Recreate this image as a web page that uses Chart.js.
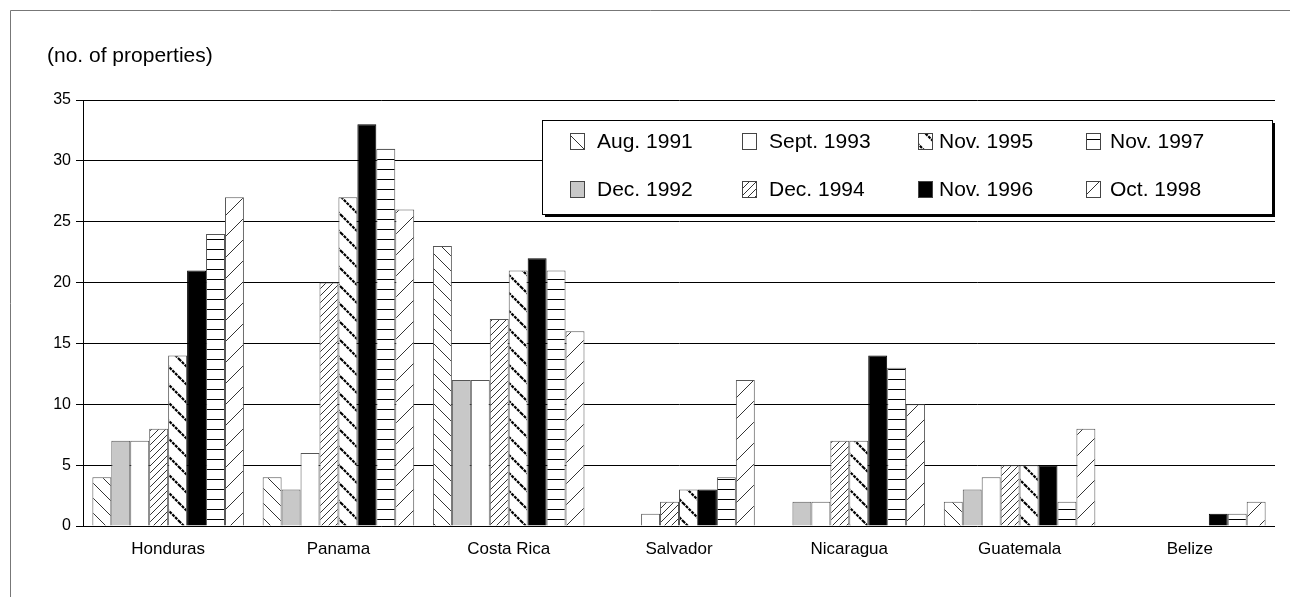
<!DOCTYPE html>
<html>
<head>
<meta charset="utf-8">
<script src="https://cdn.jsdelivr.net/npm/chart.js@4/dist/chart.umd.min.js"></script>
<style>
  html, body { margin: 0; padding: 0; background: #fff; }
  #wrap { position: relative; width: 1290px; height: 597px; }
</style>
</head>
<body>
<div id="wrap"><canvas id="c" width="1290" height="597"></canvas></div>
<script>
// Properties counted per country at each survey date
const categories = ['Honduras', 'Panama', 'Costa Rica', 'Salvador', 'Nicaragua', 'Guatemala', 'Belize'];
const aug1991  = [4, 4, 23, 0, 0, 2, 0];
const dec1992  = [7, 3, 12, 0, 2, 3, 0];
const sept1993 = [7, 6, 12, 1, 2, 4, 0];
const dec1994  = [8, 20, 17, 2, 7, 5, 0];
const nov1995  = [14, 27, 21, 3, 7, 5, 0];
const nov1996  = [21, 33, 22, 3, 14, 5, 1];
const nov1997  = [24, 31, 21, 4, 13, 2, 1];
const oct1998  = [27, 26, 16, 12, 10, 8, 2];
const seriesLabels = ['Aug. 1991', 'Dec. 1992', 'Sept. 1993', 'Dec. 1994', 'Nov. 1995', 'Nov. 1996', 'Nov. 1997', 'Oct. 1998'];
const yTickValues = [0, 5, 10, 15, 20, 25, 30, 35];
const yAxisTitle = '(no. of properties)';

const FONT = '"Liberation Sans", Arial, sans-serif';

// Hatch fills built on small tiles
function tile(size, draw) {
  const t = document.createElement('canvas');
  t.width = size; t.height = size;
  const g = t.getContext('2d');
  g.fillStyle = '#fff';
  g.fillRect(0, 0, size, size);
  g.strokeStyle = '#000';
  draw(g, size);
  return document.createElement('canvas').getContext('2d').createPattern(t, 'repeat');
}
function backslash(size, width, dash) {
  return tile(size, (g, s) => {
    g.lineWidth = width;
    if (dash) g.setLineDash(dash);
    g.beginPath();
    g.moveTo(-1, -1); g.lineTo(s + 1, s + 1);
    g.moveTo(-1, s - 1); g.lineTo(1, s + 1);
    g.moveTo(s - 1, -1); g.lineTo(s + 1, 1);
    g.stroke();
  });
}
function slash(size, width) {
  return tile(size, (g, s) => {
    g.lineWidth = width;
    g.beginPath();
    g.moveTo(-1, s + 1); g.lineTo(s + 1, -1);
    g.moveTo(-1, 1); g.lineTo(1, -1);
    g.moveTo(s - 1, s + 1); g.lineTo(s + 1, s - 1);
    g.stroke();
  });
}
function horizontal(size) {
  return tile(size, (g, s) => {
    g.lineWidth = 1;
    g.beginPath();
    g.moveTo(0, s - 0.5); g.lineTo(s, s - 0.5);
    g.stroke();
  });
}

const fills = [
  backslash(15, 0.8),           // Aug. 1991
  '#c8c8c8',                    // Dec. 1992
  '#ffffff',                    // Sept. 1993
  slash(7, 0.8),                // Dec. 1994
  backslash(18, 2.2, [3, 1]),   // Nov. 1995
  '#000000',                    // Nov. 1996
  horizontal(10),               // Nov. 1997
  slash(21, 0.8)                // Oct. 1998
];
const seriesData = [aug1991, dec1992, sept1993, dec1994, nov1995, nov1996, nov1997, oct1998];

const datasets = seriesData.map((d, i) => ({
  label: seriesLabels[i],
  data: d,
  backgroundColor: fills[i],
  borderColor: i === 5 ? '#000' : '#555',
  borderWidth: 1,
  categoryPercentage: 0.89,
  barPercentage: 1.0
}));

// Outer frame and axis caption
const framePlugin = {
  id: 'frame',
  beforeDraw(chart) {
    const ctx = chart.ctx;
    ctx.save();
    ctx.fillStyle = '#fff';
    ctx.fillRect(0, 0, chart.width, chart.height);
    ctx.strokeStyle = '#777';
    ctx.lineWidth = 1;
    ctx.beginPath();
    ctx.moveTo(10.5, chart.height);
    ctx.lineTo(10.5, 10.5);
    ctx.lineTo(chart.width, 10.5);
    ctx.stroke();
    ctx.fillStyle = '#000';
    ctx.font = '21px ' + FONT;
    ctx.textBaseline = 'middle';
    ctx.textAlign = 'left';
    ctx.fillText(yAxisTitle, 47, 56);
    ctx.restore();
  }
};

// Boxed legend in four columns, filled column by column
const legendPlugin = {
  id: 'boxLegend',
  afterDraw(chart) {
    const ctx = chart.ctx;
    const bx = 542, by = 120, bw = 730, bh = 94;
    ctx.save();
    ctx.fillStyle = '#000';
    ctx.fillRect(bx + 3, by + 3, bw, bh);
    ctx.fillStyle = '#fff';
    ctx.fillRect(bx, by, bw, bh);
    ctx.strokeStyle = '#000';
    ctx.lineWidth = 1;
    ctx.strokeRect(bx + 0.5, by + 0.5, bw, bh);

    const swatchX = [570, 742, 918, 1086];
    const textX = [597, 769, 939, 1110];
    const rowY = [141, 189];
    ctx.font = '21px ' + FONT;
    ctx.textBaseline = 'middle';
    ctx.textAlign = 'left';
    chart.data.datasets.forEach((ds, i) => {
      const col = Math.floor(i / 2), row = i % 2;
      const sx = swatchX[col], sy = rowY[row] - 8;
      ctx.fillStyle = ds.backgroundColor;
      ctx.fillRect(sx, sy, 15, 17);
      ctx.strokeStyle = '#444';
      ctx.strokeRect(sx + 0.5, sy + 0.5, 14, 16);
      ctx.fillStyle = '#000';
      ctx.fillText(ds.label, textX[col], rowY[row] + 1);
    });
    ctx.restore();
  }
};

new Chart(document.getElementById('c'), {
  type: 'bar',
  data: { labels: categories, datasets },
  plugins: [framePlugin, legendPlugin],
  options: {
    responsive: false,
    animation: false,
    devicePixelRatio: 1,
    layout: { padding: { top: 100, right: 15, left: 0, bottom: 0 } },
    plugins: { legend: { display: false }, tooltip: { enabled: false } },
    scales: {
      x: {
        grid: { display: false },
        border: { display: false },
        ticks: { color: '#000', font: { family: FONT, size: 17 }, padding: 5, maxRotation: 0 },
        afterFit(scale) { scale.height = 71; }
      },
      y: {
        min: 0,
        max: 35,
        afterBuildTicks(scale) { scale.ticks = yTickValues.map(v => ({ value: v })); },
        grid: { color: '#000', lineWidth: 1, tickLength: 7, drawOnChartArea: true },
        border: { display: true, color: '#000', width: 1 },
        ticks: { color: '#000', font: { family: FONT, size: 16 }, padding: 5 },
        afterFit(scale) { scale.width = 83; }
      }
    }
  }
});
</script>
</body>
</html>
